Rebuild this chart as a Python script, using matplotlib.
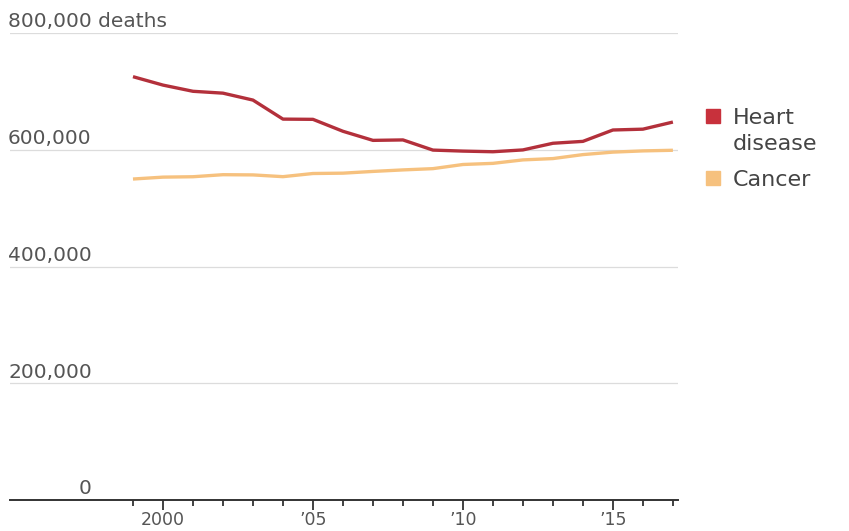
import matplotlib
matplotlib.use("Agg")
import matplotlib.pyplot as plt
from matplotlib.patches import Rectangle
import matplotlib.transforms as mtransforms

years = list(range(1999, 2018))
heart = [725192, 710760, 700142, 696947, 685089, 652486, 652091, 631636, 616067,
         616828, 599413, 597689, 596577, 599711, 611105, 614348, 633842, 635260, 647457]
cancer = [549838, 553091, 553768, 557271, 556902, 553888, 559312, 559888, 562875,
          565469, 567628, 574743, 576691, 582623, 584881, 591700, 595930, 598038, 599108]
ytick_vals = [0, 200000, 400000, 600000, 800000]
ytick_labels = ["0", "200,000", "400,000", "600,000", "800,000 deaths"]
xtick_vals = [2000, 2005, 2010, 2015]
xtick_labels = ["2000", "\u201905", "\u201910", "\u201915"]

plt.rcParams['font.family'] = ['DejaVu Sans']

W, H = 849, 531
fig = plt.figure(figsize=(W / 100, H / 100), dpi=100)
left, right, bottom, top = 10 / W, 678 / W, (H - 500) / H, (H - 33) / H
ax = fig.add_axes([left, bottom, right - left, top - bottom])

heart_col = "#b3303b"
cancer_col = "#f6c17e"

ax.plot(years, cancer, color=cancer_col, lw=2.4, solid_capstyle='butt', zorder=3)
ax.plot(years, heart, color=heart_col, lw=2.4, solid_capstyle='butt', zorder=4)

ax.set_xlim(1994.9, 2017.17)
ax.set_ylim(0, 800000)

for s in ["top", "right", "left"]:
    ax.spines[s].set_visible(False)
ax.spines["bottom"].set_color("#333333")
ax.spines["bottom"].set_linewidth(1.4)
ax.spines["bottom"].set_zorder(5)

for v in ytick_vals[1:]:
    ax.axhline(v, color="#dcdcdc", lw=0.9, zorder=1)

ax.set_yticks([])
lab_trans = ax.get_yaxis_transform() + mtransforms.ScaledTranslation(0, 4 / 72, fig.dpi_scale_trans)
x0 = -2 / (right - left) / W
texts = {}
for v, lab in zip(ytick_vals[1:], ytick_labels[1:]):
    texts[v] = ax.text(x0, v, lab, transform=lab_trans,
                       ha="left", va="baseline", fontsize=14.5, color="#555555")

# right-align the "0" label with the end of the other numbers
renderer = fig.canvas.get_renderer()
bb = texts[200000].get_window_extent(renderer)
x_right_axes = ax.transAxes.inverted().transform((bb.x1, 0))[0]
ax.text(x_right_axes, ytick_vals[0], ytick_labels[0], transform=lab_trans,
        ha="right", va="baseline", fontsize=14.5, color="#555555")

ax.set_xticks(years, minor=True)
ax.set_xticks(xtick_vals)
ax.set_xticklabels(xtick_labels, fontsize=12.5, color="#555555")
ax.tick_params(axis="x", which="major", length=7, width=1.3, color="#333333", pad=1)
ax.tick_params(axis="x", which="minor", length=4.5, width=1.3, color="#333333")

# legend (manual)
sq = 14
legend_items = [("#c8313c", ["Heart", "disease"], 116), (cancer_col, ["Cancer"], 178)]
for col, lines, yc in legend_items:
    fig.patches.append(Rectangle((706 / W, (H - yc - sq / 2) / H), sq / W, sq / H,
                                 transform=fig.transFigure, color=col))
    for i, name in enumerate(lines):
        fig.text(733 / W, (H - yc - i * 26) / H, name, ha="left", va="center_baseline",
                 fontsize=16, color="#444444")

fig.savefig("out.png", dpi=100, facecolor="white")
